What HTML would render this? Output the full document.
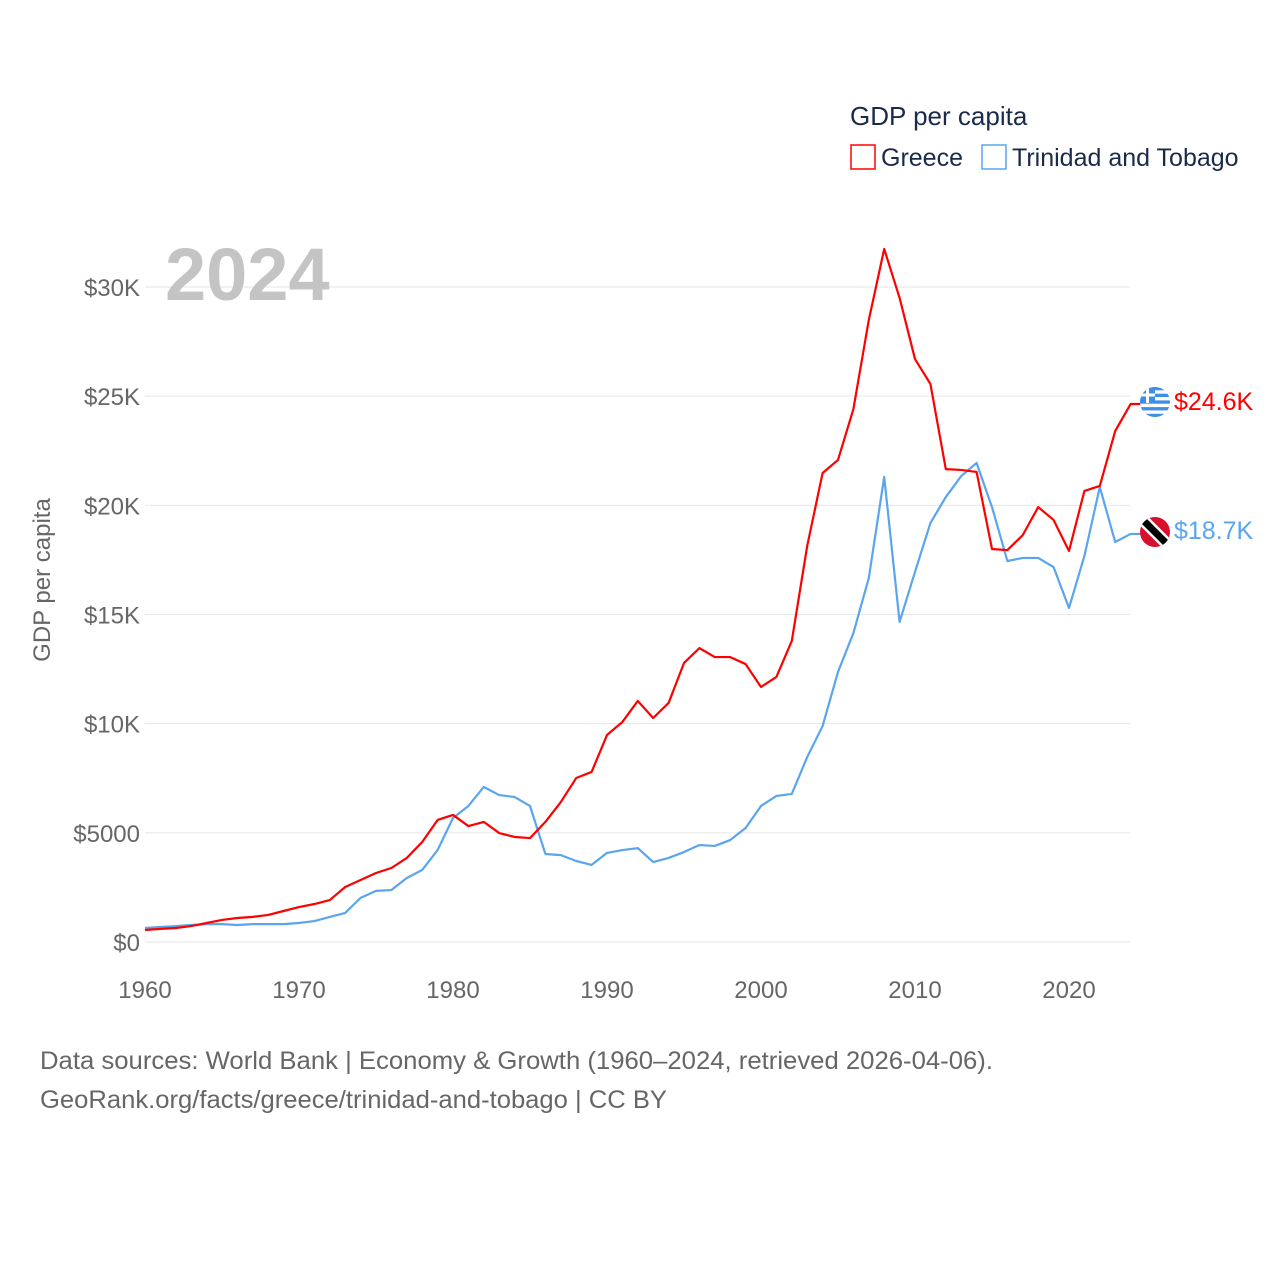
<!DOCTYPE html>
<html><head><meta charset="utf-8">
<style>
body{margin:0;background:#fff;}
svg text{font-family:"Liberation Sans",sans-serif;}
</style></head>
<body>
<svg id="chart" width="1280" height="1280" xmlns="http://www.w3.org/2000/svg">
<rect width="1280" height="1280" fill="#fff"/>
<g id="grid"></g>
<g id="yticks"></g>
<g id="xticks"></g>
<text x="165" y="300" font-size="74" font-weight="bold" fill="#c4c4c4">2024</text>
<text transform="translate(50,580) rotate(-90)" text-anchor="middle" font-size="24" fill="#666">GDP per capita</text>
<g id="series"></g>
<text x="850" y="125" font-size="26" fill="#1a2a4a">GDP per capita</text>
<rect x="851" y="145" width="24" height="24" fill="none" stroke="#ff0000" stroke-width="1.5"/>
<text x="881" y="166" font-size="25" fill="#1a2a4a">Greece</text>
<rect x="982" y="145" width="24" height="24" fill="none" stroke="#5aa5ee" stroke-width="1.5"/>
<text x="1012" y="166" font-size="25" fill="#1a2a4a">Trinidad and Tobago</text>
<g>
<clipPath id="cg"><circle cx="1155" cy="402" r="15"/></clipPath>
<g clip-path="url(#cg)"><rect x="1140" y="387" width="30" height="30" fill="#fff"/>
<rect x="1140" y="387" width="30" height="3.3" fill="#3d8fe6"/><rect x="1140" y="393.7" width="30" height="3.3" fill="#3d8fe6"/><rect x="1140" y="400.4" width="30" height="3.3" fill="#3d8fe6"/><rect x="1140" y="407.1" width="30" height="3.3" fill="#3d8fe6"/><rect x="1140" y="413.8" width="30" height="3.3" fill="#3d8fe6"/>
<rect x="1140" y="387" width="15" height="16" fill="#3d8fe6"/><rect x="1146" y="387" width="3" height="16" fill="#fff"/><rect x="1140" y="393.5" width="15" height="3" fill="#fff"/></g></g>
<g>
<clipPath id="ct"><circle cx="1155" cy="532" r="15"/></clipPath>
<g clip-path="url(#ct)"><rect x="1140" y="517" width="30" height="30" fill="#d8102d"/>
<line x1="1138" y1="515" x2="1172" y2="549" stroke="#fff" stroke-width="12"/>
<line x1="1138" y1="515" x2="1172" y2="549" stroke="#000" stroke-width="7"/></g></g>
<text id="lblG" x="1174" y="410" font-size="25" fill="#ff0000"></text>
<text id="lblT" x="1174" y="539" font-size="25" fill="#5aa5ee"></text>
<text x="40" y="1069" font-size="25" fill="#666" textLength="953" lengthAdjust="spacingAndGlyphs">Data sources: World Bank | Economy &amp; Growth (1960–2024, retrieved 2026-04-06).</text>
<text x="40" y="1108" font-size="25" fill="#666" textLength="627" lengthAdjust="spacingAndGlyphs">GeoRank.org/facts/greece/trinidad-and-tobago | CC BY</text>
</svg>
<script>
const years=[];for(let y=1960;y<=2024;y++)years.push(y);
const greece=[550,600,640,730,870,1010,1100,1150,1240,1420,1600,1740,1920,2520,2840,3160,3390,3850,4580,5590,5820,5310,5500,4990,4810,4760,5500,6410,7510,7790,9480,10080,11040,10260,10950,12780,13460,13050,13050,12730,11680,12140,13790,18140,21480,22080,24410,28490,31740,29500,26700,25560,21660,21620,21530,18000,17950,18640,19920,19330,17910,20660,20890,23400,24640];
const trinidad=[640,690,730,780,820,820,780,820,820,820,870,960,1150,1330,2020,2340,2380,2930,3300,4210,5680,6230,7100,6730,6640,6230,4030,3980,3710,3530,4080,4210,4300,3660,3850,4120,4440,4400,4670,5220,6230,6690,6780,8470,9890,12370,14150,16670,21300,14660,16950,19190,20380,21340,21940,19920,17450,17590,17590,17170,15300,17680,20840,18320,18690];
const yTicks=[0,5000,10000,15000,20000,25000,30000];
const yTickLabels=["$0","$5000","$10K","$15K","$20K","$25K","$30K"];
const xTicks=[1960,1970,1980,1990,2000,2010,2020];
const NS="http://www.w3.org/2000/svg";
const X=y=>145+(y-1960)*15.4;
const Y=v=>942-v*(655/30000);
function mk(tag,attrs,parent){const e=document.createElementNS(NS,tag);for(const k in attrs)e.setAttribute(k,attrs[k]);parent.appendChild(e);return e;}
const grid=document.getElementById('grid'),yt=document.getElementById('yticks'),xt=document.getElementById('xticks'),ser=document.getElementById('series');
yTicks.forEach((v,i)=>{
 const l=mk('line',{x1:145,x2:1130,y1:Y(v),y2:Y(v),stroke:'#e6e6e6','stroke-width':1},grid);
 
 
 const t=mk('text',{x:140,y:Y(v)+9,'text-anchor':'end','font-size':24,fill:'#666'},yt);
 t.textContent=yTickLabels[i];
 
 
});
xTicks.forEach(v=>{
 const t=mk('text',{x:X(v),y:998,'text-anchor':'middle','font-size':24,fill:'#666'},xt);
 t.textContent=v;
 
 
});
function line(data,color,name){
 const pts=data.map((v,i)=>X(years[i])+','+Y(v));
 pts.push((X(years[years.length-1])+10)+','+Y(data[data.length-1]));
 const p=mk('polyline',{points:pts.join(' '),fill:'none',stroke:color,'stroke-width':2.2,'stroke-linejoin':'round'},ser);
 
 
}
line(trinidad,'#5aa5ee','trinidad-line');
line(greece,'#ff0000','greece-line');
const fmt=v=>'$'+(v/1000).toFixed(1)+'K';
document.getElementById('lblG').textContent=fmt(greece[greece.length-1]);
document.getElementById('lblT').textContent=fmt(trinidad[trinidad.length-1]);
</script>
</body></html>
